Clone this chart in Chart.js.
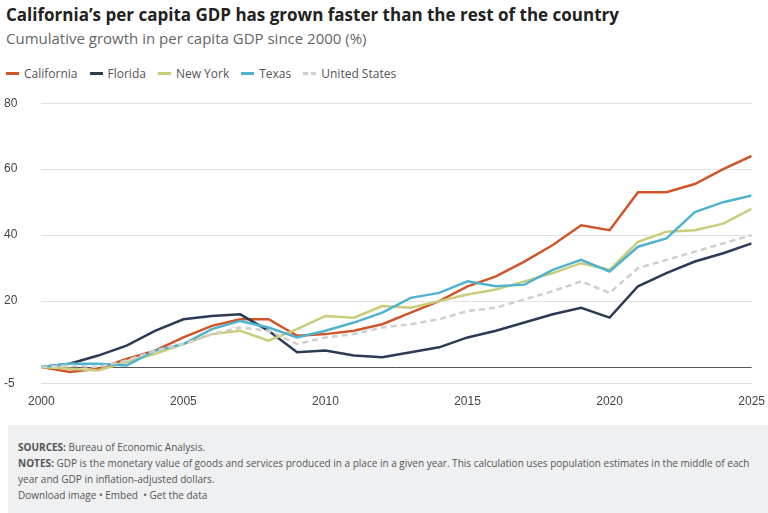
<!DOCTYPE html>
<html>
<head>
<meta charset="utf-8">
<script src="https://cdn.jsdelivr.net/npm/chart.js@4"></script>
<style>
body { margin:0; width:768px; height:513px; font-family:"Open Sans", Arial, sans-serif; background:#fff; position:relative; overflow:hidden; }
#title { position:absolute; left:6px; top:3px; font-size:17px; font-weight:bold; color:#222; }
#sub { position:absolute; left:6px; top:28px; font-size:15px; color:#666; }
#legend { position:absolute; left:6px; top:65px; font-size:12px; color:#555; display:flex; gap:12px; }
#legend span { display:flex; align-items:center; }
#legend i { display:inline-block; width:13px; height:0; border-top:3px solid; margin-right:5px; }
#wrap { position:absolute; left:0; top:84px; width:768px; height:328px; }
#foot { position:absolute; left:8px; top:425px; width:760px; height:88px; background:#eef0f2; font-size:10px; color:#555; line-height:16px; padding:14px 0 0 10px; box-sizing:border-box; }
</style>
</head>
<body>
<div id="title">California’s per capita GDP has grown faster than the rest of the country</div>
<div id="sub">Cumulative growth in per capita GDP since 2000 (%)</div>
<div id="legend"></div>
<div id="wrap"><canvas id="chart"></canvas></div>
<div id="foot"><b>SOURCES:</b> Bureau of Economic Analysis.<br><b>NOTES:</b> GDP is the monetary value of goods and services produced in a place in a given year. This calculation uses population estimates in the middle of each year and GDP in inflation-adjusted dollars.<br>Download image • Embed &nbsp;• Get the data</div>
<script>
const years = Array.from({length: 26}, (_, i) => 2000 + i);
const california = [0, -1.5, -0.5, 2.5, 5, 9, 12.5, 14.5, 14.5, 9.5, 10, 11, 13, 16.5, 20, 24.5, 27.5, 32, 37, 43, 41.5, 53, 53, 55.5, 60, 64];
const florida = [0, 1, 3.5, 6.5, 11, 14.5, 15.5, 16, 11, 4.5, 5, 3.5, 3, 4.5, 6, 9, 11, 13.5, 16, 18, 15, 24.5, 28.5, 32, 34.5, 37.5];
const newYork = [0, -0.5, -1, 1.5, 4, 7, 10, 11, 8, 11.5, 15.5, 15, 18.5, 18, 20, 22, 23.5, 26, 28.5, 31.5, 29.5, 38, 41, 41.5, 43.5, 48];
const texas = [0, 1, 1, 0.5, 5, 7, 11.5, 14, 12, 9, 11, 13.5, 16.5, 21, 22.5, 26, 24.5, 25, 29.5, 32.5, 29, 36.5, 39, 47, 50, 52];
const unitedStates = [0, 0.5, 0, 2, 5, 7, 10, 12, 11, 7, 9, 10, 12, 13, 14.5, 17, 18, 20.5, 23, 26, 22.5, 30, 32.5, 35, 37.5, 40];
const yTicks = [-5, 0, 20, 40, 60, 80];

const series = [
    { label: 'California', data: california, color: '#d0562a' },
    { label: 'Florida', data: florida, color: '#2b3a55' },
    { label: 'New York', data: newYork, color: '#c9cc7a' },
    { label: 'Texas', data: texas, color: '#4fb3cf' },
    { label: 'United States', data: unitedStates, color: '#cfcfcf', dash: [6, 4] }
];

document.getElementById('legend').innerHTML = series.map(s =>
    `<span><i style="border-top-color:${s.color};border-top-style:${s.dash ? 'dashed' : 'solid'}"></i>${s.label}</span>`
).join('');

new Chart(document.getElementById('chart'), {
    type: 'line',
    data: {
        datasets: series.map(s => ({
            label: s.label,
            data: years.map((y, i) => ({ x: y, y: s.data[i] })),
            borderColor: s.color,
            borderWidth: 2.5,
            borderDash: s.dash || [],
            pointRadius: 0,
            tension: 0
        })).reverse()
    },
    options: {
        responsive: true,
        maintainAspectRatio: false,
        animation: false,
        layout: { padding: { left: 4, right: 14, top: 1 } },
        plugins: { legend: { display: false }, tooltip: { enabled: false } },
        scales: {
            x: {
                type: 'linear', min: 2000, max: 2025,
                ticks: { stepSize: 5, color: '#444', font: { size: 12 }, callback: v => String(v) },
                grid: { display: false },
                border: { display: true, color: '#dddddd' }
            },
            y: {
                min: -5, max: 80,
                afterBuildTicks: axis => { axis.ticks = yTicks.map(v => ({ value: v })); },
                ticks: { color: '#444', font: { size: 12 }, padding: 12, crossAlign: 'far', callback: v => v === 0 ? '' : v },
                grid: {
                    color: ctx => ctx.tick && ctx.tick.value === 0 ? '#555555' : '#e2e2e2',
                    lineWidth: 1,
                    drawTicks: false
                },
                border: { display: false }
            }
        }
    }
});
</script>
</body>
</html>
